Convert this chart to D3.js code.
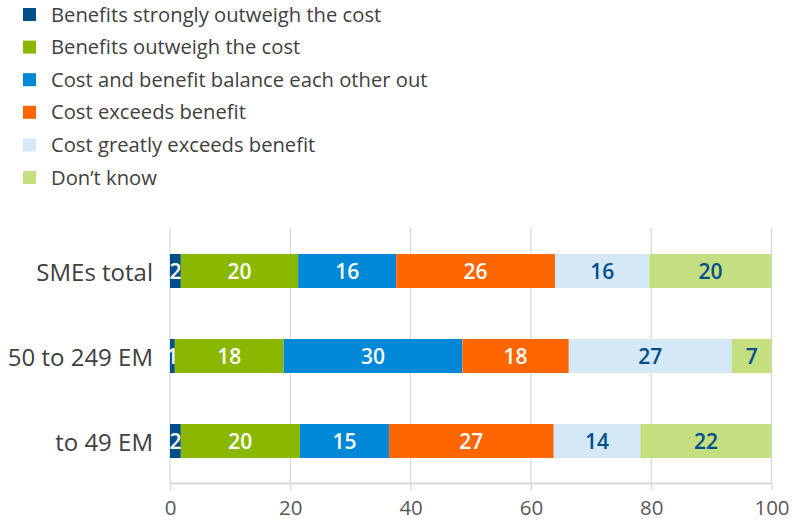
<!DOCTYPE html>
<html>
<head>
<meta charset="utf-8">
<script src="https://cdn.jsdelivr.net/npm/d3@7"></script>
<style>
  html, body { margin: 0; padding: 0; background: #fff; }
  svg { display: block; font-family: "Open Sans", "Noto Sans", sans-serif; }
</style>
</head>
<body>
<svg id="chart" width="793" height="523"></svg>
<script>
// Survey answers per company size group (percent of respondents)
const categories = ["SMEs total", "50 to 249 EM", "to 49 EM"];
const seriesNames = [
  "Benefits strongly outweigh the cost",
  "Benefits outweigh the cost",
  "Cost and benefit balance each other out",
  "Cost exceeds benefit",
  "Cost greatly exceeds benefit",
  "Don\u2019t know"
];
const strongBenefit  = [1.8, 0.8, 1.8];
const benefit        = [19.5, 18.1, 19.8];
const balanced       = [16.3, 29.7, 14.8];
const costExceeds    = [26.4, 17.7, 27.4];
const costGreatly    = [15.7, 27.1, 14.4];
const dontKnow       = [20.3, 6.6, 21.8];
const xTicks = [0, 20, 40, 60, 80, 100];

const seriesValues = [strongBenefit, benefit, balanced, costExceeds, costGreatly, dontKnow];
const colors = ["#004F8B", "#8AB800", "#0088D8", "#FF6600", "#D4E8F8", "#C3DF80"];
const labelColors = ["#ffffff", "#ffffff", "#ffffff", "#ffffff", "#004F8B", "#004F8B"];
const fontStack = "'Open Sans', 'Noto Sans', sans-serif";

const svg = d3.select("#chart");

// Legend
const legend = svg.append("g");
seriesNames.forEach((name, i) => {
  const cy = 14.5 + i * 32.6;
  legend.append("rect")
    .attr("x", 23).attr("y", cy - 6.5)
    .attr("width", 13).attr("height", 13)
    .attr("fill", colors[i]);
  legend.append("text")
    .attr("x", 51).attr("y", cy)
    .attr("dy", "0.35em")
    .attr("font-size", 20.2)
    .attr("fill", "#404040")
    .text(name);
});

// Scales
const x = d3.scaleLinear().domain([0, 100]).range([170, 771.5]);
const y = d3.scaleBand().domain(categories).range([228.5, 483.5]).paddingInner(0.6).paddingOuter(0.3);

// Gridlines
svg.append("g")
  .selectAll("line")
  .data(xTicks)
  .join("line")
  .attr("x1", d => x(d)).attr("x2", d => x(d))
  .attr("y1", 228).attr("y2", 483.5)
  .attr("stroke", "#d9d9d9").attr("stroke-width", 1.3);

// Stacked data
const rows = categories.map((c, ci) => {
  const r = { category: c };
  seriesNames.forEach((s, si) => { r[s] = seriesValues[si][ci]; });
  return r;
});
const stacked = d3.stack().keys(seriesNames)(rows);

const fmt = d3.format(".0f");
const layers = svg.append("g")
  .selectAll("g")
  .data(stacked)
  .join("g");

layers.each(function(layer, li) {
  const g = d3.select(this);
  g.selectAll("rect")
    .data(layer)
    .join("rect")
    .attr("x", d => x(d[0]))
    .attr("y", d => y(d.data.category))
    .attr("width", d => x(d[1]) - x(d[0]))
    .attr("height", y.bandwidth())
    .attr("fill", colors[li]);
  g.selectAll("text")
    .data(layer)
    .join("text")
    .attr("x", d => (x(d[0]) + x(d[1])) / 2)
    .attr("y", d => y(d.data.category) + y.bandwidth() / 2)
    .attr("dy", "0.36em")
    .attr("text-anchor", "middle")
    .attr("font-size", 21)
    .attr("font-weight", 600)
    .attr("fill", labelColors[li])
    .text(d => fmt(d[1] - d[0]));
});

// Category labels
const yAxis = svg.append("g")
  .attr("transform", `translate(${x(0)},0)`)
  .call(d3.axisLeft(y).tickSize(0).tickPadding(17));
yAxis.select(".domain").remove();
yAxis.selectAll("text")
  .attr("font-size", 24)
  .attr("font-family", fontStack)
  .attr("dy", "0.42em")
  .attr("fill", "#404040");

// X axis
const xAxis = svg.append("g")
  .attr("transform", "translate(0,483.5)")
  .call(d3.axisBottom(x).tickValues(xTicks).tickSize(7).tickPadding(10));
xAxis.select(".domain")
  .attr("stroke", "#d9d9d9").attr("stroke-width", 2)
  .attr("d", `M${x(0)},0H${x(100)}`);
xAxis.selectAll(".tick line").attr("stroke", "#d9d9d9").attr("stroke-width", 1.3);
xAxis.selectAll("text")
  .attr("font-size", 20.5)
  .attr("font-family", fontStack)
  .attr("fill", "#595959");
</script>
</body>
</html>
